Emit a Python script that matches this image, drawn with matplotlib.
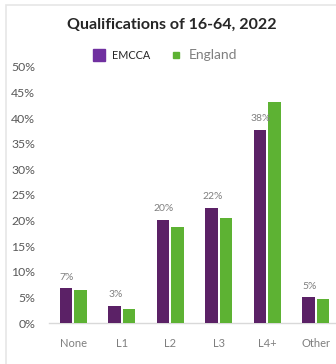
import matplotlib
matplotlib.use("Agg")
import matplotlib.pyplot as plt
from matplotlib.lines import Line2D
from matplotlib.patches import Rectangle
from matplotlib.ticker import PercentFormatter
import numpy as np

categories = ["None", "L1", "L2", "L3", "L4+", "Other"]
emcca = [6.8, 3.4, 20.2, 22.5, 37.7, 5.0]
england = [6.4, 2.7, 18.7, 20.6, 43.2, 4.6]
emcca_labels = ["7%", "3%", "20%", "22%", "38%", "5%"]
yticks = [0, 5, 10, 15, 20, 25, 30, 35, 40, 45, 50]

plt.rcParams['font.family'] = ['Lato', 'DejaVu Sans']

W, H = 336, 364
fig = plt.figure(figsize=(W/100, H/100), dpi=100)
fig.patch.set_facecolor('white')

# outer chart border
fig.patches.append(Rectangle((6/W, -0.05), 1.0, 1 - 5/H + 0.05, transform=fig.transFigure,
                             fill=False, edgecolor='#e6e6e6', linewidth=1.2))

ax = fig.add_axes([49/W, (H-323)/H, 291/W, 256/H])
x = np.arange(len(categories))
bw = 0.25
ax.bar(x - 0.15, emcca, bw, color='#5B2166', zorder=3)
ax.bar(x + 0.15, england, bw, color='#5DB233', zorder=3)

for xi, v, lab in zip(x, emcca, emcca_labels):
    ax.text(xi - 0.13, v + 1.3, lab, ha='center', va='bottom', fontsize=7.5, color='#7f7f7f')

ax.set_xlim(-0.5, len(categories) - 0.5)
ax.set_ylim(0, 50)
ax.set_yticks(yticks)
ax.yaxis.set_major_formatter(PercentFormatter(decimals=0))
ax.set_xticks(x)
ax.set_xticklabels(categories)
ax.tick_params(axis='y', length=0, pad=10, labelsize=8.8, labelcolor='#595959')
ax.tick_params(axis='x', length=0, pad=11, labelsize=8.0, labelcolor='#7f7f7f')
for s in ['left', 'right', 'top']:
    ax.spines[s].set_visible(False)
ax.spines['bottom'].set_color('#d9d9d9')
ax.spines['bottom'].set_linewidth(1.0)

fig.text(172/W, 1 - 25/H, "Qualifications of 16-64, 2022", ha='center', va='center',
         fontsize=11.5, fontweight='bold', color='#262626')

handles = [Line2D([], [], marker='s', linestyle='None', color='#7030A0', markersize=8),
           Line2D([], [], marker='s', linestyle='None', color='#5DB233', markersize=5)]
leg = fig.legend(handles, ["EMCCA", "England"], loc='center', bbox_to_anchor=(165/W, 1 - 55/H),
                 ncol=2, frameon=False, fontsize=7.8, handletextpad=0.6, columnspacing=1.8,
                 handlelength=1.2)
texts = leg.get_texts()
texts[0].set_color('#262626')
texts[1].set_color('#7f7f7f')
texts[1].set_fontsize(10)

fig.savefig("out.png", dpi=100)
